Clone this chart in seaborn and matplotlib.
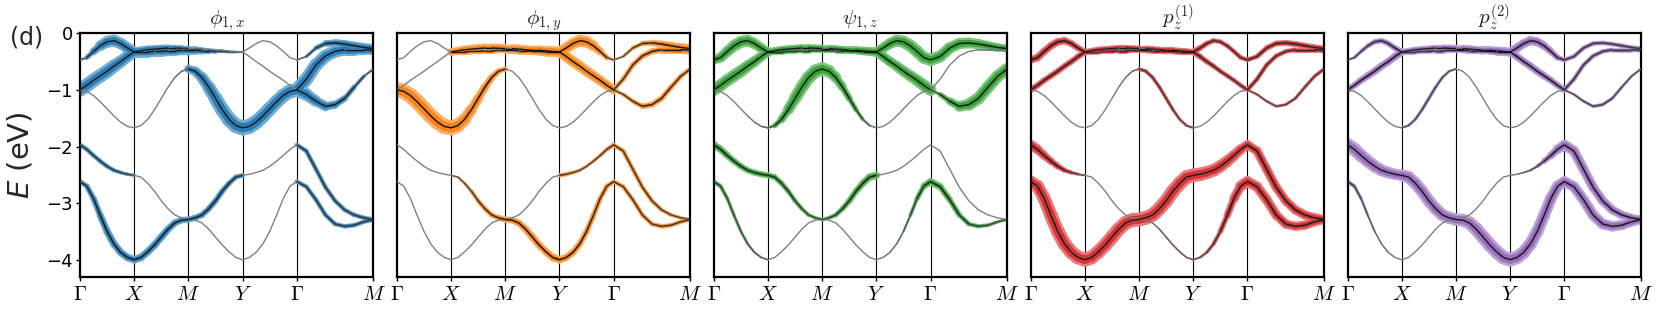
import numpy as np
import pandas as pd
import matplotlib
matplotlib.use("Agg")
import matplotlib.pyplot as plt
import seaborn as sns
from matplotlib.collections import LineCollection
from matplotlib.colors import to_rgb

sns.set_style("ticks")
plt.rcParams['font.family'] = ['DejaVu Sans']
plt.rcParams['mathtext.fontset'] = 'cm'

# ---------------- data ----------------
kpath_labels = [r'$\Gamma$', r'$X$', r'$M$', r'$Y$', r'$\Gamma$', r'$M$']
segment_lengths = [1.0, 1.0, 1.0, 1.0, np.sqrt(2.0)]
points_per_segment = 8

# band energies (eV) read at t = 0, 1/8, ..., 1 along each path segment
band_1 = [-0.47, -0.43, -0.32, -0.22, -0.15, -0.13, -0.18, -0.26, -0.33,
          -0.31, -0.29, -0.28, -0.27, -0.26, -0.26, -0.265, -0.27,
          -0.27, -0.28, -0.29, -0.30, -0.30, -0.31, -0.32, -0.33,
          -0.26, -0.18, -0.13, -0.15, -0.22, -0.32, -0.43, -0.47,
          -0.41, -0.26, -0.18, -0.17, -0.19, -0.22, -0.25, -0.27]
band_2 = [-1.00, -0.92, -0.83, -0.75, -0.67, -0.58, -0.50, -0.41, -0.33,
          -0.33, -0.33, -0.32, -0.32, -0.31, -0.31, -0.30, -0.30,
          -0.30, -0.31, -0.31, -0.32, -0.32, -0.33, -0.33, -0.33,
          -0.41, -0.50, -0.58, -0.67, -0.75, -0.83, -0.92, -1.00,
          -0.81, -0.56, -0.40, -0.32, -0.29, -0.29, -0.29, -0.30]
band_3 = [-1.00, -1.025, -1.10, -1.21, -1.335, -1.46, -1.57, -1.645, -1.67,
          -1.63, -1.52, -1.35, -1.15, -0.95, -0.78, -0.67, -0.63,
          -0.67, -0.78, -0.95, -1.15, -1.35, -1.52, -1.63, -1.67,
          -1.645, -1.57, -1.46, -1.335, -1.21, -1.10, -1.025, -1.00,
          -1.08, -1.20, -1.29, -1.26, -1.15, -0.95, -0.76, -0.63]
band_4 = [-1.97, -2.05, -2.16, -2.26, -2.35, -2.42, -2.46, -2.49, -2.51,
          -2.54, -2.65, -2.79, -2.96, -3.10, -3.21, -3.26, -3.29,
          -3.30, -3.35, -3.46, -3.60, -3.74, -3.86, -3.96, -4.00,
          -3.96, -3.87, -3.72, -3.50, -3.22, -2.92, -2.70, -2.62,
          -2.71, -2.94, -3.21, -3.37, -3.41, -3.39, -3.33, -3.29]
band_5 = [-2.62, -2.70, -2.92, -3.22, -3.50, -3.72, -3.87, -3.96, -4.00,
          -3.96, -3.86, -3.74, -3.60, -3.46, -3.35, -3.30, -3.29,
          -3.26, -3.21, -3.10, -2.96, -2.79, -2.65, -2.54, -2.51,
          -2.49, -2.46, -2.42, -2.35, -2.26, -2.16, -2.05, -1.97,
          -2.08, -2.40, -2.72, -2.96, -3.12, -3.21, -3.26, -3.29]
bands = [band_1, band_2, band_3, band_4, band_5]

orbital_titles = [r'$\phi_{1,x}$', r'$\phi_{1,y}$', r'$\psi_{1,z}$',
                  r'$p_z^{(1)}$', r'$p_z^{(2)}$']
orbital_colors = ['#1f77b4', '#ff7f0e', '#2ca02c', '#d62728', '#9467bd']

# orbital weights per band: (start, mid, end) of segments G-X, X-M, M-Y, Y-G, G-M
w_phi1x = [[0.05, 0.8, 0.7, 0.6, 0.5, 0.3, 0.2, 0.0, 0.0, 0, 0, 0, 0.05, 0.5, 0.6],
           [0.9, 0.9, 0.7, 0.7, 0.7, 0.6, 0.6, 0.3, 0.05, 0, 0, 0, 0.9, 0.8, 0.6],
           [0, 0, 0, 0, 0, 0.1, 0.5, 0.9, 1.0, 1.0, 0.9, 0.9, 0.9, 0.5, 0.1],
           [0.3, 0.3, 0.2, 0, 0, 0, 0, 0, 0, 0, 0, 0, 0.3, 0.3, 0.3],
           [0.3, 0.5, 0.5, 0.5, 0.5, 0.4, 0.4, 0.4, 0.3, 0, 0, 0, 0.3, 0.3, 0.3]]
w_phi1y = [[0, 0, 0, 0.5, 0.6, 0.6, 0.6, 0.6, 0.7, 0.7, 0.8, 0.1, 0.1, 0.4, 0.6],
           [0, 0, 0, 0.4, 0.4, 0.4, 0.4, 0.5, 0.7, 0.7, 0.7, 0.6, 0.3, 0.4, 0.6],
           [1.0, 1.0, 1.0, 1.0, 0.6, 0.3, 0, 0, 0, 0, 0, 0, 0.2, 0.4, 0.3],
           [0, 0, 0, 0.1, 0.3, 0.4, 0.4, 0.5, 0.5, 0.5, 0.4, 0.3, 0.3, 0.3, 0.3],
           [0, 0, 0, 0, 0, 0, 0, 0, 0, 0.3, 0.2, 0.3, 0.3, 0.3, 0.2]]
w_psi1z = [[0.6, 0.8, 0.6, 0.5, 0.5, 0.5, 0.5, 0.5, 0.6, 0.6, 0.8, 0.8, 0.8, 0.7, 0.5],
           [0.8, 0.8, 0.6, 0.4, 0.3, 0.3, 0.3, 0.3, 0.5, 0.6, 0.7, 0.8, 0, 0, 0.1],
           [0, 0, 0.1, 0.1, 0.8, 0.9, 0.9, 0.4, 0.0, 0, 0, 0, 0.1, 0.8, 0.8],
           [0.5, 0.4, 0.4, 0.4, 0.3, 0.2, 0, 0, 0, 0, 0.1, 0.5, 0.5, 0.3, 0.2],
           [0.3, 0.2, 0.1, 0, 0, 0, 0.2, 0.4, 0.5, 0, 0, 0, 0, 0, 0]]
w_pz1 = [[0.5, 0.5, 0.4, 0.4, 0.4, 0.4, 0.4, 0.4, 0.4, 0.4, 0.3, 0.3, 0.3, 0.4, 0.4],
         [0.4, 0.4, 0.4, 0.3, 0.3, 0.4, 0.4, 0.4, 0.4, 0.4, 0.3, 0.3, 0.3, 0.3, 0.4],
         [0, 0, 0, 0, 0, 0.1, 0.25, 0.25, 0.15, 0, 0, 0, 0.15, 0.2, 0.25],
         [0.7, 0.4, 0.1, 0, 0, 0, 0, 0.1, 0.1, 0.1, 0.3, 0.8, 0.7, 0.6, 0.6],
         [0.8, 0.9, 0.9, 0.9, 0.9, 0.9, 0.9, 0.9, 0.9, 0.9, 0.8, 0.6, 0.6, 0.6, 0.6]]
w_pz2 = [[0.15, 0.35, 0.4, 0.4, 0.4, 0.5, 0.5, 0.5, 0.6, 0.6, 0.6, 0.3, 0.3, 0.3, 0.3],
         [0.4, 0.5, 0.5, 0.3, 0.3, 0.4, 0.4, 0.4, 0.5, 0.5, 0.5, 0.4, 0.3, 0.3, 0.3],
         [0, 0, 0, 0.15, 0.25, 0.15, 0, 0, 0, 0, 0, 0, 0.15, 0.25, 0.15],
         [0.9, 0.8, 0.7, 0.8, 0.8, 0.8, 0.8, 0.9, 0.9, 0.9, 0.8, 0.7, 0.7, 0.7, 0.6],
         [0.3, 0.1, 0.0, 0, 0, 0, 0, 0, 0, 0, 0.2, 0.7, 0.7, 0.6, 0.5]]
orbital_weights = [w_phi1x, w_phi1y, w_psi1z, w_pz1, w_pz2]

# ---------------- geometry of the k path ----------------
k_nodes = np.concatenate([[0.0], np.cumsum(segment_lengths)])
t = np.linspace(0, 1, points_per_segment + 1)
k = np.concatenate([k_nodes[0] + t * segment_lengths[0]] +
                   [k_nodes[s] + t[1:] * segment_lengths[s] for s in range(1, 5)])

df = pd.DataFrame({
    'k': np.tile(k, len(bands)),
    'E': np.concatenate([np.asarray(b) for b in bands]),
    'band': np.repeat(np.arange(len(bands)), len(k)),
})


def blend(c, a):
    r = np.array(to_rgb(c))
    return tuple(a * r + (1 - a) * np.ones(3))


def seg_weight(w15, s, tt):
    sv, mv, ev = w15[3 * s:3 * s + 3]
    return np.interp(tt, [0, 0.5, 1.0], [sv, mv, ev])


W, H = 1660, 313
fig, axes = plt.subplots(1, 5, figsize=(W / 100, H / 100), dpi=100, sharey=True)
fig.subplots_adjust(left=80 / W, right=1641 / W, bottom=1 - 276.7 / H,
                    top=1 - 33.3 / H, wspace=0.08)

lw_max = 11.0
for p, ax in enumerate(axes):
    col = orbital_colors[p]
    for kn in k_nodes[1:-1]:
        ax.axvline(kn, color='black', lw=0.8, zorder=1)

    segs, widths = [], []
    for b, E in enumerate(bands):
        E = np.asarray(E)
        w15 = orbital_weights[p][b]
        for s in range(5):
            for j in range(points_per_segment):
                i0 = s * points_per_segment + j
                wv = 0.5 * (seg_weight(w15, s, j / points_per_segment) +
                            seg_weight(w15, s, (j + 1) / points_per_segment))
                segs.append([(k[i0], E[i0]), (k[i0 + 1], E[i0 + 1])])
                widths.append(wv)
    widths = np.array(widths)
    outer = LineCollection(segs, linewidths=lw_max * widths, colors=[blend(col, 0.62)],
                           capstyle='round', joinstyle='round', zorder=2)
    inner = LineCollection(segs, linewidths=0.6 * lw_max * widths, colors=[blend(col, 0.95)],
                           capstyle='round', joinstyle='round', zorder=2.1)
    ax.add_collection(outer)
    ax.add_collection(inner)

    sns.lineplot(data=df, x='k', y='E', units='band', estimator=None, sort=False,
                 color='gray', linewidth=1.0, legend=False, ax=ax, zorder=3)

    dark = LineCollection(segs, linewidths=1.0,
                          colors=[(0, 0, 0, min(1.0, 2.2 * w) * 0.85) for w in widths],
                          capstyle='butt', zorder=4)
    ax.add_collection(dark)

    ax.set_xlim(k_nodes[0], k_nodes[-1])
    ax.set_ylim(-4.3, 0)
    ax.set_xticks(k_nodes)
    ax.set_xticklabels(kpath_labels, fontsize=15)
    ax.set_xlabel('')
    ax.set_ylabel('')
    ax.set_title(orbital_titles[p], fontsize=15, pad=2)
    for sp in ax.spines.values():
        sp.set_linewidth(1.6)
        sp.set_color('black')
    ax.tick_params(axis='x', length=3, width=1, pad=2, colors='black')
    if p == 0:
        ax.set_yticks([0, -1, -2, -3, -4])
        ax.tick_params(axis='y', labelsize=13, length=3, width=1, pad=2, colors='black')
    else:
        ax.tick_params(axis='y', left=False, labelleft=False)

axes[0].set_ylabel('$E$ (eV)', fontsize=21, math_fontfamily='dejavusans')
axes[0].yaxis.set_label_coords(-0.155, 0.5)
fig.text(0.006, 0.88, '(d)', fontsize=17, va='center', ha='left')

fig.savefig('out.png', dpi=100)
